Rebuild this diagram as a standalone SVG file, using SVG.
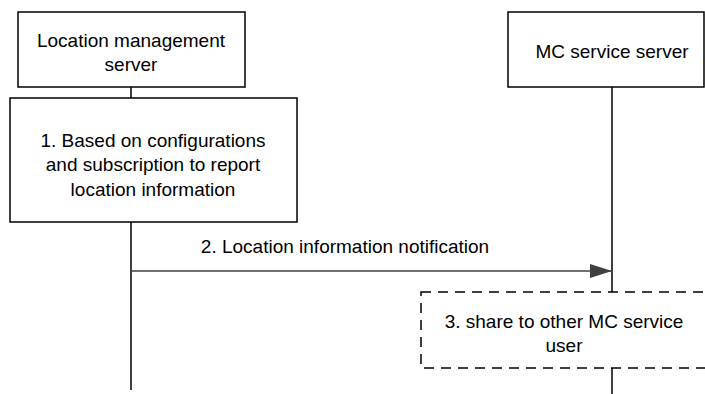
<svg xmlns="http://www.w3.org/2000/svg" width="705" height="394" viewBox="0 0 705 394">
<style>
.box{fill:#fff;stroke:#000;stroke-width:1.5}
.dash{fill:#fff;stroke:#000;stroke-width:1.5;stroke-dasharray:10 7}
.life{stroke:#000;stroke-width:1.5;fill:none}
.msg{stroke:#404040;stroke-width:1.5;fill:none}
text{font-family:"Liberation Sans",Arial,sans-serif;font-size:19px;fill:#000;text-anchor:middle}
</style>
<defs>
<marker id="arr" markerWidth="22" markerHeight="14" refX="22" refY="7" orient="auto" markerUnits="userSpaceOnUse">
<path d="M0,0 L22,7 L0,14 Z" fill="#404040"/>
</marker>
</defs>
<g id="connectors">
<line class="life" x1="131" y1="87" x2="131" y2="98"/>
<line class="life" x1="131" y1="222" x2="131" y2="390"/>
<line class="life" x1="612" y1="87" x2="612" y2="292"/>
<line class="life" x1="612" y1="368" x2="612" y2="394"/>
<line class="msg" x1="131" y1="271" x2="612" y2="271" marker-end="url(#arr)"/>
<text x="345" y="253">2. Location information notification</text>
</g>
<g id="lms">
<rect class="box" x="18" y="12" width="227" height="75"/>
<text x="131" y="47">Location management</text>
<text x="131" y="71">server</text>
</g>
<g id="mcs">
<rect class="box" x="508" y="12" width="196" height="75"/>
<text x="612" y="58">MC service server</text>
</g>
<g id="step1">
<rect class="box" x="10" y="98" width="287" height="124"/>
<text x="153" y="147">1. Based on configurations</text>
<text x="153" y="171">and subscription to report</text>
<text x="153" y="196">location information</text>
</g>
<g id="step3">
<rect class="dash" x="421" y="292" width="300" height="76"/>
<text x="564" y="328">3. share to other MC service</text>
<text x="564" y="352">user</text>
</g>
</svg>
